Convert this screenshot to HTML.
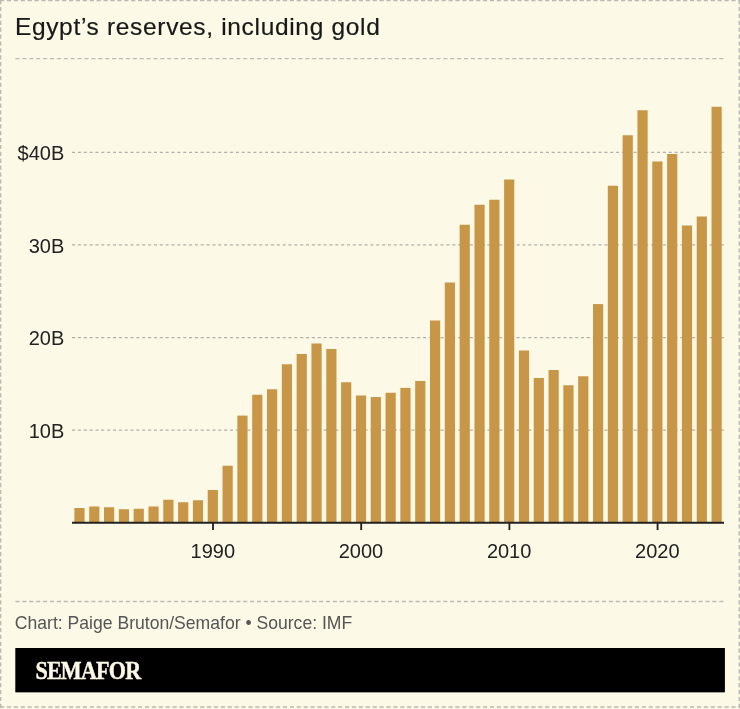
<!DOCTYPE html>
<html><head><meta charset="utf-8"><title>Egypt's reserves, including gold</title>
<style>
html,body{margin:0;padding:0;background:#fcf9e6;}
body{width:740px;height:709px;overflow:hidden;font-family:"Liberation Sans",sans-serif;}
svg{display:block;position:absolute;left:0;top:0;will-change:transform;}
svg text{font-family:"Liberation Sans",sans-serif;}
.logo{font-family:"Liberation Serif",serif;font-weight:bold;}
</style></head><body>
<svg width="740" height="709" viewBox="0 0 740 709">
<rect x="0" y="0" width="740" height="709" fill="#fcf9e6"/>
<!-- outer dashed border -->
<g fill="none" stroke="#bab9b3" stroke-width="1.4" stroke-dasharray="4.2 2.7">
<line x1="0" y1="0.65" x2="740" y2="0.65"/>
<line x1="0.65" y1="0" x2="0.65" y2="708"/>
<line x1="739.3" y1="0" x2="739.3" y2="708"/>
<line x1="0" y1="707" x2="740" y2="707" stroke-width="1.7"/>
</g>
<!-- title -->
<text x="14.9" y="34.6" font-size="24.5" letter-spacing="0.67" fill="#181818" stroke="#181818" stroke-width="0.2">Egypt’s reserves, including gold</text>
<line x1="15.4" x2="725" y1="58.7" y2="58.7" stroke="#bdbcb6" stroke-width="1.3" stroke-dasharray="4.2 2.7"/>
<!-- grid -->
<g stroke="#b2b1aa" stroke-width="1.25" stroke-dasharray="3.1 2.75">
<line x1="72.0" x2="724.0" y1="430.05" y2="430.05"/>
<line x1="72.0" x2="724.0" y1="337.50" y2="337.50"/>
<line x1="72.0" x2="724.0" y1="244.95" y2="244.95"/>
<line x1="72.0" x2="724.0" y1="152.40" y2="152.40"/>
</g>
<!-- bars -->
<g fill="#c89647">
<rect x="74.36" y="508.00" width="10.2" height="14.60"/>
<rect x="89.18" y="506.50" width="10.2" height="16.10"/>
<rect x="104.00" y="507.25" width="10.2" height="15.35"/>
<rect x="118.81" y="509.25" width="10.2" height="13.35"/>
<rect x="133.63" y="508.75" width="10.2" height="13.85"/>
<rect x="148.45" y="506.50" width="10.2" height="16.10"/>
<rect x="163.27" y="499.75" width="10.2" height="22.85"/>
<rect x="178.09" y="502.25" width="10.2" height="20.35"/>
<rect x="192.90" y="500.25" width="10.2" height="22.35"/>
<rect x="207.72" y="490.00" width="10.2" height="32.60"/>
<rect x="222.54" y="465.75" width="10.2" height="56.85"/>
<rect x="237.36" y="415.60" width="10.2" height="107.00"/>
<rect x="252.18" y="394.75" width="10.2" height="127.85"/>
<rect x="267.00" y="389.25" width="10.2" height="133.35"/>
<rect x="281.81" y="364.25" width="10.2" height="158.35"/>
<rect x="296.63" y="354.00" width="10.2" height="168.60"/>
<rect x="311.45" y="343.50" width="10.2" height="179.10"/>
<rect x="326.27" y="349.00" width="10.2" height="173.60"/>
<rect x="341.09" y="382.25" width="10.2" height="140.35"/>
<rect x="355.90" y="395.50" width="10.2" height="127.10"/>
<rect x="370.72" y="397.00" width="10.2" height="125.60"/>
<rect x="385.54" y="392.75" width="10.2" height="129.85"/>
<rect x="400.36" y="387.90" width="10.2" height="134.70"/>
<rect x="415.18" y="381.00" width="10.2" height="141.60"/>
<rect x="430.00" y="320.50" width="10.2" height="202.10"/>
<rect x="444.81" y="282.50" width="10.2" height="240.10"/>
<rect x="459.63" y="224.75" width="10.2" height="297.85"/>
<rect x="474.45" y="204.75" width="10.2" height="317.85"/>
<rect x="489.27" y="199.75" width="10.2" height="322.85"/>
<rect x="504.09" y="179.50" width="10.2" height="343.10"/>
<rect x="518.90" y="350.50" width="10.2" height="172.10"/>
<rect x="533.72" y="378.00" width="10.2" height="144.60"/>
<rect x="548.54" y="370.00" width="10.2" height="152.60"/>
<rect x="563.36" y="385.25" width="10.2" height="137.35"/>
<rect x="578.18" y="376.25" width="10.2" height="146.35"/>
<rect x="593.00" y="304.10" width="10.2" height="218.50"/>
<rect x="607.81" y="185.75" width="10.2" height="336.85"/>
<rect x="622.63" y="135.25" width="10.2" height="387.35"/>
<rect x="637.45" y="110.25" width="10.2" height="412.35"/>
<rect x="652.27" y="161.50" width="10.2" height="361.10"/>
<rect x="667.09" y="154.00" width="10.2" height="368.60"/>
<rect x="681.90" y="225.50" width="10.2" height="297.10"/>
<rect x="696.72" y="216.50" width="10.2" height="306.10"/>
<rect x="711.54" y="106.75" width="10.2" height="415.85"/>
</g>
<!-- axis -->
<line x1="72.0" x2="724.0" y1="522.75" y2="522.75" stroke="#222" stroke-width="2"/>
<g stroke="#222" stroke-width="1.85">
<line x1="213.02" x2="213.02" y1="522.6" y2="530.1"/>
<line x1="361.20" x2="361.20" y1="522.6" y2="530.1"/>
<line x1="509.39" x2="509.39" y1="522.6" y2="530.1"/>
<line x1="657.57" x2="657.57" y1="522.6" y2="530.1"/>
</g>
<g font-size="20" fill="#222222">
<text x="64.3" y="437.80" text-anchor="end">10B</text>
<text x="64.3" y="345.25" text-anchor="end">20B</text>
<text x="64.3" y="252.70" text-anchor="end">30B</text>
<text x="64.3" y="160.15" text-anchor="end">$40B</text>
<text x="212.77" y="558.4" text-anchor="middle">1990</text>
<text x="360.95" y="558.4" text-anchor="middle">2000</text>
<text x="509.14" y="558.4" text-anchor="middle">2010</text>
<text x="657.32" y="558.4" text-anchor="middle">2020</text>
</g>
<!-- footer -->
<line x1="15.4" x2="725" y1="601.5" y2="601.5" stroke="#bdbcb6" stroke-width="1.3" stroke-dasharray="4.2 2.7"/>
<text transform="translate(14.8 628.8) scale(0.926 1)" font-size="19" fill="#555555">Chart: Paige Bruton/Semafor • Source: IMF</text>
<rect x="15.3" y="648" width="709.6" height="44.35" fill="#000"/>
<text class="logo" transform="translate(35.4 678.5) scale(0.885 1)" font-size="25" letter-spacing="-0.9" fill="#fcf9e6" stroke="#fcf9e6" stroke-width="0.45">SEMAFOR</text>
</svg>
</body></html>
